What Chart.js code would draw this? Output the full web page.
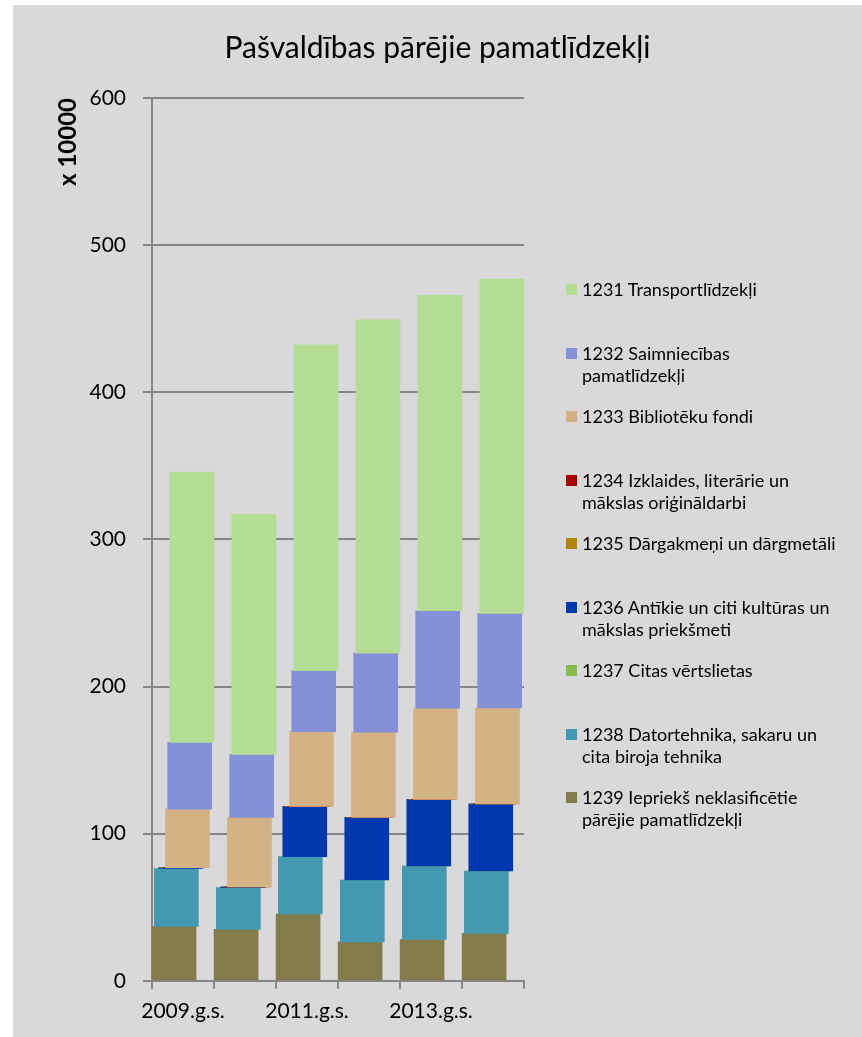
<!DOCTYPE html>
<html><head><meta charset="utf-8">
<script src="https://cdn.jsdelivr.net/npm/chart.js@4.4.1/dist/chart.umd.min.js"></script>
<style>
html,body{margin:0;padding:0;background:#fff;}
body{width:862px;height:1037px;position:relative;overflow:hidden;font-family:Lato,sans-serif;}
#wrap{position:absolute;left:13px;top:5px;width:849px;height:1032px;background:#d9d9d9;}
#legend{position:absolute;left:0;top:0;}
.li{position:absolute;left:582px;font-size:18px;line-height:22px;color:#000;white-space:pre;}
.bx{position:absolute;left:566px;width:11px;height:11px;}
</style></head><body>
<div id="wrap"><canvas id="c" width="849" height="1032"></canvas></div>
<div id="legend"></div>
<script>
const chartTitle = 'Pašvaldības pārējie pamatlīdzekļi';
const yAxisTitle = 'x 10000';
const categories = ['2009.g.s.','2010.g.s.','2011.g.s.','2012.g.s.','2013.g.s.','2014.g.s.'];
const yTicks = [0,100,200,300,400,500,600];

const seriesNames = [
  '1231 Transportlīdzekļi',
  '1232 Saimniecības\npamatlīdzekļi',
  '1233 Bibliotēku fondi',
  '1234 Izklaides, literārie un\nmākslas oriģināldarbi',
  '1235 Dārgakmeņi un dārgmetāli',
  '1236 Antīkie un citi kultūras un\nmākslas priekšmeti',
  '1237 Citas vērtslietas',
  '1238 Datortehnika, sakaru un\ncita biroja tehnika',
  '1239 Iepriekš neklasificētie\npārējie pamatlīdzekļi'
];
const colors = ['#b3dd92','#8591d6','#d3b285','#aa0000','#b08400','#0038b0','#86bd48','#4299b0','#837b4a'];

const s1231 = [183.7,163.3,221.5,226.5,214.3,227.2];
const s1232 = [45.4,42.8,41.3,53.8,66.2,64.2];
const s1233 = [39.8,47.2,50.8,57.8,62.0,65.3];
const s1234 = [0,0,0,0,0,0];
const s1235 = [0,0,0,0,0,0];
const s1236 = [0.6,0.5,34.2,42.6,45.3,45.6];
const s1237 = [0,0,0,0,0,0];
const s1238 = [39.3,28.4,39.0,42.0,49.9,42.4];
const s1239 = [37.0,34.9,45.4,26.5,28.1,32.2];

const seriesValues = [s1231,s1232,s1233,s1234,s1235,s1236,s1237,s1238,s1239];
const nSeries = seriesValues.length;
const SHIFT = 2.225/62;

const datasets = seriesValues.map((vals, j) => {
  const k = nSeries - 1 - j;
  const data = vals.map((v, i) => {
    let base = 0;
    for (let m = nSeries - 1; m > j; m--) base += seriesValues[m][i];
    return {x: i + (k - (nSeries - 1) / 2) * SHIFT, y: [base, base + v]};
  });
  return {label: seriesNames[j], data, backgroundColor: colors[j], borderWidth: 0,
          barThickness: 44, grouped: false, xAxisID: 'xb', yAxisID: 'y'};
});

new Chart(document.getElementById('c'), {
  type: 'bar',
  data: {labels: categories, datasets},
  options: {
    responsive: false, animation: false, devicePixelRatio: 1,
    layout: {padding: {left: 0, right: 0, top: 0, bottom: 3}},
    plugins: {
      legend: {display: false}, tooltip: {enabled: false},
      title: {display: true, text: chartTitle, color: '#000',
              font: {family: 'Lato', size: 30, weight: 'normal'}, padding: {top: 25, bottom: 32}}
    },
    scales: {
      x: {type: 'category', offset: true,
          grid: {offset: true, drawOnChartArea: false, color: '#868686', lineWidth: 2, tickLength: 8},
          border: {color: '#868686', width: 2},
          ticks: {autoSkip: false, maxRotation: 0, padding: 10, color: '#000',
                  font: {family: 'Lato', size: 21},
                  callback: (v, i) => i % 2 === 0 ? categories[i] : ''}},
      xb: {type: 'linear', axis: 'x', position: 'bottom', display: false, offset: false,
           bounds: 'data', min: -0.5, max: 5.5,
           afterBuildTicks: s => { s.ticks = [{value: -0.5}, {value: 5.5}]; s.min = -0.5; s.max = 5.5; }},
      y: {min: yTicks[0], max: yTicks[yTicks.length - 1],
          ticks: {stepSize: 100, padding: 17, color: '#000', font: {family: 'Lato', size: 21}},
          grid: {color: '#868686', lineWidth: 2, tickLength: 9},
          border: {color: '#868686', width: 2},
          title: {display: true, text: yAxisTitle, align: 'end', color: '#000',
                  font: {family: 'Lato', size: 24, weight: 'bold'}, padding: {top: 41, bottom: 0}},
          afterFit: s => { s.width = 139; }},
      yr: {type: 'linear', position: 'right', display: true,
           ticks: {display: false}, grid: {display: false}, border: {display: false},
           afterFit: s => { s.width = 338; }}
    }
  }
});

const leg = document.getElementById('legend');
seriesNames.forEach((name, j) => {
  const top = 278 + 63.5 * j;
  const t = document.createElement('div');
  t.className = 'li'; t.style.top = top + 'px'; t.textContent = name;
  const b = document.createElement('div');
  b.className = 'bx'; b.style.top = (top + 6) + 'px'; b.style.background = colors[j];
  leg.appendChild(b); leg.appendChild(t);
});
</script>
</body></html>
